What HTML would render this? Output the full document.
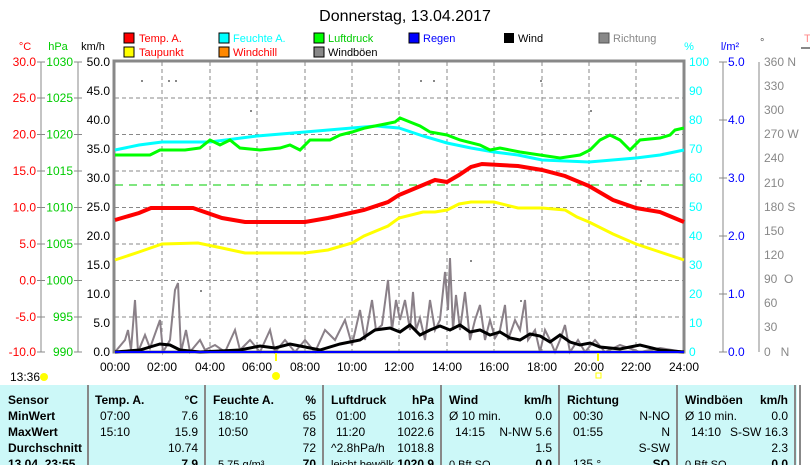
<!DOCTYPE html>
<html><head><meta charset="utf-8"><style>
body{margin:0;width:810px;height:465px;overflow:hidden;background:#fff;font-family:"Liberation Sans",sans-serif;position:relative}
svg{position:absolute;left:0;top:0}
.tb{position:absolute;left:0;top:385px;width:797px;height:80px;background:#ccf8f8}
</style></head><body>
<div class="tb"></div>
<svg width="810" height="465" font-family="Liberation Sans, sans-serif">
<text x="405" y="21" font-size="16" text-anchor="middle">Donnerstag, 13.04.2017</text>
<g font-size="11">
<rect x="124" y="33" width="10" height="10" fill="#f00" stroke="#000"/><text x="139" y="42" fill="#f00">Temp. A.</text>
<rect x="124" y="47" width="10" height="10" fill="#ff0" stroke="#000"/><text x="139" y="56" fill="#f00">Taupunkt</text>
<rect x="219" y="33" width="10" height="10" fill="#0ff" stroke="#000"/><text x="233" y="42" fill="#0ff">Feuchte A.</text>
<rect x="219" y="47" width="10" height="10" fill="#f80" stroke="#000"/><text x="233" y="56" fill="#f00">Windchill</text>
<rect x="314" y="33" width="10" height="10" fill="#0f0" stroke="#000"/><text x="328" y="42" fill="#0c0">Luftdruck</text>
<rect x="314" y="47" width="10" height="10" fill="#888" stroke="#000"/><text x="328" y="56">Windböen</text>
<rect x="409" y="33" width="10" height="10" fill="#00f" stroke="#000"/><text x="423" y="42" fill="#00f">Regen</text>
<rect x="504" y="33" width="10" height="10" fill="#000"/><text x="518" y="42">Wind</text>
<rect x="599" y="33" width="10" height="10" fill="#888" stroke="#555"/><text x="613" y="42" fill="#888">Richtung</text>
<text x="25" y="50" fill="#f00" text-anchor="middle">°C</text>
<text x="58" y="50" fill="#0c0" text-anchor="middle">hPa</text>
<text x="93" y="50" text-anchor="middle">km/h</text>
<text x="689" y="50" fill="#0ff" text-anchor="middle">%</text>
<text x="730" y="50" fill="#00f" text-anchor="middle">l/m²</text>
<text x="760" y="46" fill="#555">°</text>
<text x="804" y="42" fill="#f88">T</text>
</g>
<line x1="801" y1="48" x2="810" y2="48" stroke="#888" stroke-width="2"/>
<g stroke="#888" stroke-dasharray="4,3" stroke-width="1">
<line x1="115" y1="98" x2="684" y2="98"/><line x1="115" y1="134.5" x2="684" y2="134.5"/><line x1="115" y1="171" x2="684" y2="171"/><line x1="115" y1="207.5" x2="684" y2="207.5"/><line x1="115" y1="244" x2="684" y2="244"/><line x1="115" y1="280.5" x2="684" y2="280.5"/><line x1="115" y1="317" x2="684" y2="317"/>
<line x1="162" y1="62" x2="162" y2="352"/><line x1="210" y1="62" x2="210" y2="352"/><line x1="257" y1="62" x2="257" y2="352"/><line x1="305" y1="62" x2="305" y2="352"/><line x1="352" y1="62" x2="352" y2="352"/><line x1="399" y1="62" x2="399" y2="352"/><line x1="447" y1="62" x2="447" y2="352"/><line x1="494" y1="62" x2="494" y2="352"/><line x1="542" y1="62" x2="542" y2="352"/><line x1="589" y1="62" x2="589" y2="352"/><line x1="636" y1="62" x2="636" y2="352"/>
</g>
<g fill="#888"><rect x="141" y="80" width="2" height="2"/><rect x="168" y="80" width="2" height="2"/><rect x="175" y="80" width="2" height="2"/><rect x="420" y="80" width="2" height="2"/><rect x="433" y="80" width="2" height="2"/><rect x="540" y="80" width="2" height="2"/><rect x="590" y="110" width="2" height="2"/><rect x="250" y="110" width="2" height="2"/><rect x="470" y="260" width="2" height="2"/><rect x="520" y="300" width="2" height="2"/><rect x="640" y="180" width="2" height="2"/><rect x="200" y="290" width="2" height="2"/></g>
<g stroke="#888" fill="none">
<rect x="114" y="61" width="570" height="291" stroke-width="3"/>
<line x1="41" y1="62" x2="41" y2="352"/><line x1="78" y1="62" x2="78" y2="352"/>
<line x1="723" y1="62" x2="723" y2="352"/><line x1="759" y1="62" x2="759" y2="352"/>
</g>
<g stroke="#888">
<line x1="37" y1="62" x2="45" y2="62"/><line x1="37" y1="98" x2="45" y2="98"/><line x1="37" y1="134.5" x2="45" y2="134.5"/><line x1="37" y1="171" x2="45" y2="171"/><line x1="37" y1="207.5" x2="45" y2="207.5"/><line x1="37" y1="244" x2="45" y2="244"/><line x1="37" y1="280.5" x2="45" y2="280.5"/><line x1="37" y1="317" x2="45" y2="317"/><line x1="37" y1="352" x2="45" y2="352"/>
<line x1="74" y1="62" x2="82" y2="62"/><line x1="74" y1="98" x2="82" y2="98"/><line x1="74" y1="134.5" x2="82" y2="134.5"/><line x1="74" y1="171" x2="82" y2="171"/><line x1="74" y1="207.5" x2="82" y2="207.5"/><line x1="74" y1="244" x2="82" y2="244"/><line x1="74" y1="280.5" x2="82" y2="280.5"/><line x1="74" y1="317" x2="82" y2="317"/><line x1="74" y1="352" x2="82" y2="352"/>
<line x1="719" y1="62" x2="727" y2="62"/><line x1="719" y1="120" x2="727" y2="120"/><line x1="719" y1="178" x2="727" y2="178"/><line x1="719" y1="236" x2="727" y2="236"/><line x1="719" y1="294" x2="727" y2="294"/><line x1="719" y1="352" x2="727" y2="352"/>
</g>
<g font-size="12" fill="#f00" text-anchor="end">
<text x="36" y="66">30.0</text><text x="36" y="102">25.0</text><text x="36" y="138.5">20.0</text><text x="36" y="175">15.0</text><text x="36" y="211.5">10.0</text><text x="36" y="248">5.0</text><text x="36" y="284.5">0.0</text><text x="36" y="321">-5.0</text><text x="36" y="356">-10.0</text>
</g>
<g font-size="12" fill="#0c0" text-anchor="end">
<text x="73" y="66">1030</text><text x="73" y="102">1025</text><text x="73" y="138.5">1020</text><text x="73" y="175">1015</text><text x="73" y="211.5">1010</text><text x="73" y="248">1005</text><text x="73" y="284.5">1000</text><text x="73" y="321">995</text><text x="73" y="356">990</text>
</g>
<g font-size="12" text-anchor="end">
<text x="110" y="66">50.0</text><text x="110" y="95">45.0</text><text x="110" y="124">40.0</text><text x="110" y="153">35.0</text><text x="110" y="182">30.0</text><text x="110" y="211">25.0</text><text x="110" y="240">20.0</text><text x="110" y="269">15.0</text><text x="110" y="298">10.0</text><text x="110" y="327">5.0</text><text x="110" y="356">0.0</text>
</g>
<g font-size="12" fill="#0ff">
<text x="689" y="66">100</text><text x="689" y="95">90</text><text x="689" y="124">80</text><text x="689" y="153">70</text><text x="689" y="182">60</text><text x="689" y="211">50</text><text x="689" y="240">40</text><text x="689" y="269">30</text><text x="689" y="298">20</text><text x="689" y="327">10</text><text x="689" y="356">0</text>
</g>
<g font-size="12" fill="#00f">
<text x="728" y="66">5.0</text><text x="728" y="124">4.0</text><text x="728" y="182">3.0</text><text x="728" y="240">2.0</text><text x="728" y="298">1.0</text><text x="728" y="356">0.0</text>
</g>
<g font-size="12" fill="#888">
<text x="764" y="66">360 N</text><text x="764" y="90">330</text><text x="764" y="114">300</text><text x="764" y="138">270 W</text><text x="764" y="162">240</text><text x="764" y="187">210</text><text x="764" y="211">180 S</text><text x="764" y="235">150</text><text x="764" y="259">120</text><text x="764" y="283">90&#160;&#160;O</text><text x="764" y="307">60</text><text x="764" y="331">30</text><text x="764" y="356">0&#160;&#160;&#160;N</text>
</g>
<g font-size="12" text-anchor="middle">
<text x="115" y="371">00:00</text><text x="162" y="371">02:00</text><text x="210" y="371">04:00</text><text x="257" y="371">06:00</text><text x="305" y="371">08:00</text><text x="352" y="371">10:00</text><text x="399" y="371">12:00</text><text x="447" y="371">14:00</text><text x="494" y="371">16:00</text><text x="542" y="371">18:00</text><text x="589" y="371">20:00</text><text x="636" y="371">22:00</text><text x="684" y="371">24:00</text>
</g>
<text x="10" y="381" font-size="12">13:36</text>
<circle cx="44" cy="377" r="4" fill="#ff0"/>
<circle cx="276" cy="376" r="4" fill="#ff0"/>
<rect x="596" y="373" width="5" height="5" fill="none" stroke="#ff0"/>
<line x1="276" y1="352" x2="276" y2="361" stroke="#ff0" stroke-width="2"/>
<line x1="598" y1="352" x2="598" y2="361" stroke="#ff0" stroke-width="2"/>
<polyline fill="none" stroke="#8a8088" stroke-width="2" points="115,352 125,340 128,330 131,350 135,300 138,352 145,335 150,348 160,320 163,352 170,340 175,290 178,283 181,352 186,330 190,352 200,340 205,350 215,345 225,352 235,330 240,350 250,340 260,352 270,330 275,352 285,340 295,352 305,340 315,352 325,330 335,340 345,320 352,345 360,310 365,340 372,300 376,330 382,325 388,280 392,330 396,300 400,320 405,300 410,330 413,292 416,330 420,318 425,340 430,300 435,330 440,320 445,272 448,310 450,258 453,330 456,295 460,330 465,292 470,340 475,320 480,305 485,340 490,320 495,338 500,330 505,305 508,340 515,320 520,330 525,300 528,340 535,330 540,352 545,330 550,340 555,352 560,340 565,325 570,352 578,340 585,352 595,340 605,352 620,345 640,352 660,348 684,352"/>
<polyline fill="none" stroke="#000" stroke-width="3" points="115,352 140,350 150,347 160,344 170,345 180,350 200,352 240,350 260,346 275,348 290,344 300,346 320,350 340,344 360,340 375,330 390,328 400,332 410,325 420,335 430,330 440,326 450,330 460,325 470,332 480,330 490,335 500,332 510,338 520,340 530,334 540,336 550,342 560,335 570,342 580,345 590,343 600,347 620,349 640,345 660,350 684,352"/>
<line x1="115" y1="352" x2="684" y2="352" stroke="#00f" stroke-width="2"/>
<line x1="115" y1="185" x2="684" y2="185" stroke="#0c0" stroke-dasharray="8,6"/>
<polyline fill="none" stroke="#ff0" stroke-width="3" points="115,260 139,252 162,244 198,243 222,248 245,253 305,253 328,250 352,243 364,236 388,226 399,218 423,212 435,212 447,210 459,204 471,202 494,202 518,208 542,208 565,210 577,217 589,222 613,234 636,244 660,252 684,260"/>
<polyline fill="none" stroke="#f00" stroke-width="4" points="115,220 139,213 151,208 193,208 222,218 245,222 305,222 328,218 364,210 388,202 399,195 423,185 435,180 447,182 459,175 471,167 482,164 518,166 542,170 565,176 589,186 613,200 636,208 660,212 684,222"/>
<polyline fill="none" stroke="#0ff" stroke-width="3" points="115,150 139,145 162,142 210,142 257,136 305,132 352,128 376,126 399,128 423,136 447,143 471,148 494,152 518,155 542,160 589,162 636,158 660,155 684,150"/>
<polyline fill="none" stroke="#0f0" stroke-width="3" points="115,155 150,155 160,150 185,150 200,148 210,140 220,145 230,140 240,148 260,150 280,148 290,145 300,150 310,140 330,140 340,135 352,132 365,128 380,125 395,122 400,118 410,122 420,126 430,132 447,135 460,140 480,145 490,150 500,148 520,152 540,155 560,158 580,155 590,150 600,140 610,135 620,140 630,150 640,140 660,138 670,135 675,130 684,128"/>
<g stroke="#888" stroke-width="2">
<line x1="88" y1="385" x2="88" y2="465"/><line x1="205" y1="385" x2="205" y2="465"/><line x1="323" y1="385" x2="323" y2="465"/><line x1="441" y1="385" x2="441" y2="465"/><line x1="559" y1="385" x2="559" y2="465"/><line x1="677" y1="385" x2="677" y2="465"/><line x1="795" y1="385" x2="795" y2="465"/><line x1="800" y1="385" x2="800" y2="465"/>
</g>
<g font-size="12">
<g font-weight="bold"><text x="8" y="404">Sensor</text><text x="8" y="420">MinWert</text><text x="8" y="436">MaxWert</text><text x="8" y="452">Durchschnitt</text><text x="8" y="468">13.04. 23:55</text>
<text x="95" y="404">Temp. A.</text><text x="213" y="404">Feuchte A.</text><text x="331" y="404">Luftdruck</text><text x="449" y="404">Wind</text><text x="567" y="404">Richtung</text><text x="685" y="404">Windböen</text>
<g text-anchor="end"><text x="198" y="404">°C</text><text x="316" y="404">%</text><text x="434" y="404">hPa</text><text x="552" y="404">km/h</text><text x="788" y="404">km/h</text>
<text x="198" y="468">7.9</text><text x="316" y="468">70</text><text x="434" y="468">1020.9</text><text x="552" y="468">0.0</text><text x="670" y="468">SO</text><text x="788" y="468">0.0</text></g></g>
<text x="100" y="420">07:00</text><text x="100" y="436">15:10</text>
<text x="218" y="420">18:10</text><text x="218" y="436">10:50</text><text x="218" y="468" font-size="11">5.75 g/m³</text>
<text x="336" y="420">01:00</text><text x="336" y="436">11:20</text><text x="331" y="452">^2.8hPa/h</text><text x="331" y="468" font-size="11">leicht bewölk</text>
<text x="449" y="420">Ø 10 min.</text><text x="455" y="436">14:15</text><text x="449" y="468" font-size="11">0 Bft SO</text>
<text x="573" y="420">00:30</text><text x="573" y="436">01:55</text><text x="573" y="468">135 °</text>
<text x="685" y="420">Ø 10 min.</text><text x="691" y="436">14:10</text><text x="685" y="468" font-size="11">0 Bft SO</text>
<g text-anchor="end">
<text x="198" y="420">7.6</text><text x="198" y="436">15.9</text><text x="198" y="452">10.74</text>
<text x="316" y="420">65</text><text x="316" y="436">78</text><text x="316" y="452">72</text>
<text x="434" y="420">1016.3</text><text x="434" y="436">1022.6</text><text x="434" y="452">1018.8</text>
<text x="552" y="420">0.0</text><text x="552" y="436">N-NW 5.6</text><text x="552" y="452">1.5</text>
<text x="670" y="420">N-NO</text><text x="670" y="436">N</text><text x="670" y="452">S-SW</text>
<text x="788" y="420">0.0</text><text x="788" y="436">S-SW 16.3</text><text x="788" y="452">2.3</text>
</g></g>
</svg>
</body></html>
